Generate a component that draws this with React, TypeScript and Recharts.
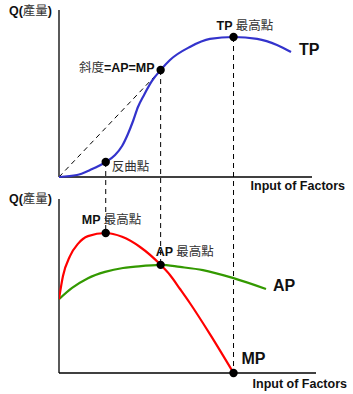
import React from 'react';
import { ComposedChart, Line, XAxis, YAxis, ReferenceLine, ReferenceDot } from 'recharts';

// ---- data ----
const tpInput = [0, 0.77, 1.33, 2.0, 2.4, 2.7, 2.95, 3.17, 3.38, 3.64, 3.98, 4.35, 4.75, 5.6, 6.46, 7.47, 8.48, 9.33, 9.93];
const tpOutput = [0, 1.4, 5, 10.7, 15.7, 22.1, 30.7, 40, 50, 58.6, 68.6, 76.4, 83.6, 92.9, 98.6, 100, 98.6, 94.3, 89.3];
const mpInput = [0, 0.17, 0.47, 0.81, 1.24, 2.0, 2.7, 3.47, 4.35, 4.75, 5.18, 5.6, 6.46, 7.47];
const mpOutput = [21.1, 27.7, 33.4, 36.9, 39.1, 40, 38.9, 36, 30.9, 28, 24.0, 20.0, 11.1, 0];
const apInput = [0, 0.56, 1.24, 1.97, 2.74, 3.17, 4.35, 5.18, 6.16, 7.47, 8.86];
const apOutput = [21.1, 24.3, 27.1, 28.9, 30, 30.3, 30.9, 30.3, 29.4, 27.1, 24];

const inflectionL = 2.0;
const equalL = 4.35;
const tpMaxL = 7.47;
const topAxisEnd = 10.83;
const botAxisEnd = 11;
const topAxisHeight = 119.29;
const botAxisHeight = 49.7;

// ---- layout ----
const W = 353;
const H = 394;
const M = { top: 10, right: 37, bottom: 21, left: 59 };
const PLOT_BOTTOM = H - M.bottom; // 373
const TOP_BASE = 177;
const TOP_SCALE = 1.4;
const BOT_SCALE = 3.5;
const topDomain = [-(PLOT_BOTTOM - TOP_BASE) / TOP_SCALE, (TOP_BASE - M.top) / TOP_SCALE];
const botDomain = [0, (PLOT_BOTTOM - M.top) / BOT_SCALE];
const topToBot = (v: number) => (PLOT_BOTTOM - (TOP_BASE - v * TOP_SCALE)) / BOT_SCALE;

const zip = (xs: number[], ys: number[]) => xs.map((x, i) => ({ x, y: ys[i] }));
const tpData = zip(tpInput, tpOutput);
const mpData = zip(mpInput, mpOutput);
const apData = zip(apInput, apOutput);
const valueAt = (xs: number[], ys: number[], x: number) => ys[xs.indexOf(x)];

const FONT = "Arial, 'Liberation Sans', 'Noto Sans CJK TC', sans-serif";
const BLUE = '#3333cc';
const RED = '#ff0000';
const GREEN = '#339900';

type Part = { t: string; cjk?: boolean };
const lat = (t: string): Part => ({ t });
const cjk = (t: string): Part => ({ t, cjk: true });

const makeShape = (parts: Part[], dx: number, dy: number, anchor: 'start' | 'end' | 'middle', size: number, dot: boolean) =>
  (p: any) => (
    <g>
      {dot && <circle cx={p.cx} cy={p.cy} r={4.2} fill="#000" />}
      <text
        x={p.cx + dx}
        y={p.cy + dy}
        textAnchor={anchor}
        dominantBaseline="central"
        fontFamily={FONT}
        fontSize={size}
      >
        {parts.map((q, i) => (
          <tspan key={i} fontWeight={q.cjk ? 'normal' : 'bold'} fill={q.cjk ? '#333' : '#111'}>
            {q.t}
          </tspan>
        ))}
      </text>
    </g>
  );

const dash = '5 4';

export default function App() {
  const tpInfl = valueAt(tpInput, tpOutput, inflectionL);
  const tpEq = valueAt(tpInput, tpOutput, equalL);
  const tpMax = valueAt(tpInput, tpOutput, tpMaxL);
  const mpMax = valueAt(mpInput, mpOutput, inflectionL);
  const apMax = valueAt(apInput, apOutput, equalL);
  const tpEnd = tpData[tpData.length - 1];
  const apEnd = apData[apData.length - 1];
  return (
    <div style={{ position: 'absolute', left: 0, top: 0, width: W, height: H, background: '#fff' }}>
      <ComposedChart width={W} height={H} margin={M}>
        <XAxis type="number" dataKey="x" domain={[0, botAxisEnd]} hide allowDataOverflow />
        <YAxis yAxisId="top" type="number" domain={topDomain} hide allowDataOverflow />
        <YAxis yAxisId="bot" type="number" domain={botDomain} hide allowDataOverflow />

        {/* dashed guides */}
        <ReferenceLine yAxisId="top" ifOverflow="visible" stroke="#000" strokeDasharray={dash}
          segment={[{ x: 0, y: 0 }, { x: equalL, y: tpEq }]} />
        <ReferenceLine yAxisId="bot" ifOverflow="visible" stroke="#000" strokeDasharray={dash}
          segment={[{ x: inflectionL, y: topToBot(tpInfl) }, { x: inflectionL, y: mpMax }]} />
        <ReferenceLine yAxisId="bot" ifOverflow="visible" stroke="#000" strokeDasharray={dash}
          segment={[{ x: equalL, y: topToBot(tpEq) }, { x: equalL, y: apMax }]} />
        <ReferenceLine yAxisId="bot" ifOverflow="visible" stroke="#000" strokeDasharray={dash}
          segment={[{ x: tpMaxL, y: topToBot(tpMax) }, { x: tpMaxL, y: 0 }]} />

        {/* axes */}
        <ReferenceLine yAxisId="top" ifOverflow="visible" stroke="#000" strokeWidth={1.3}
          segment={[{ x: 0, y: 0 }, { x: 0, y: topAxisHeight }]} />
        <ReferenceLine yAxisId="top" ifOverflow="visible" stroke="#000" strokeWidth={1.3}
          segment={[{ x: 0, y: 0 }, { x: topAxisEnd, y: 0 }]} />
        <ReferenceLine yAxisId="bot" ifOverflow="visible" stroke="#000" strokeWidth={1.3}
          segment={[{ x: 0, y: 0 }, { x: 0, y: botAxisHeight }]} />
        <ReferenceLine yAxisId="bot" ifOverflow="visible" stroke="#000" strokeWidth={1.3}
          segment={[{ x: 0, y: 0 }, { x: botAxisEnd, y: 0 }]} />

        {/* curves */}
        <Line yAxisId="top" data={tpData} dataKey="y" type="monotone" stroke={BLUE} strokeWidth={2.2} dot={false} activeDot={false} isAnimationActive={false} />
        <Line yAxisId="bot" data={apData} dataKey="y" type="monotone" stroke={GREEN} strokeWidth={2.2} dot={false} activeDot={false} isAnimationActive={false} />
        <Line yAxisId="bot" data={mpData} dataKey="y" type="monotone" stroke={RED} strokeWidth={2.2} dot={false} activeDot={false} isAnimationActive={false} />

        {/* points and labels */}
        <ReferenceDot yAxisId="top" x={inflectionL} y={tpInfl} r={4} ifOverflow="visible"
          shape={makeShape([cjk('反曲點')], 6, 5, 'start', 12.5, true)} />
        <ReferenceDot yAxisId="top" x={equalL} y={tpEq} r={4} ifOverflow="visible"
          shape={makeShape([cjk('斜度'), lat('=AP=MP')], -6, -2, 'end', 12.5, true)} />
        <ReferenceDot yAxisId="top" x={tpMaxL} y={tpMax} r={4} ifOverflow="visible"
          shape={makeShape([lat('TP '), cjk('最高點')], -17, -11, 'start', 12.5, true)} />
        <ReferenceDot yAxisId="bot" x={inflectionL} y={mpMax} r={4} ifOverflow="visible"
          shape={makeShape([lat('MP '), cjk('最高點')], -24, -13, 'start', 12.5, true)} />
        <ReferenceDot yAxisId="bot" x={equalL} y={apMax} r={4} ifOverflow="visible"
          shape={makeShape([lat('AP '), cjk('最高點')], -5, -13, 'start', 12.5, true)} />
        <ReferenceDot yAxisId="bot" x={tpMaxL} y={0} r={4} ifOverflow="visible"
          shape={makeShape([lat('MP')], 8, -15, 'start', 16, true)} />

        <ReferenceDot yAxisId="top" x={tpEnd.x} y={tpEnd.y} r={0} ifOverflow="visible"
          shape={makeShape([lat('TP')], 8, -3, 'start', 16, false)} />
        <ReferenceDot yAxisId="bot" x={apEnd.x} y={apEnd.y} r={0} ifOverflow="visible"
          shape={makeShape([lat('AP')], 7, -4, 'start', 16, false)} />
        <ReferenceDot yAxisId="top" x={topAxisEnd} y={0} r={0} ifOverflow="visible"
          shape={makeShape([lat('Input of Factors')], 33, 9, 'end', 12.5, false)} />
        <ReferenceDot yAxisId="bot" x={botAxisEnd} y={0} r={0} ifOverflow="visible"
          shape={makeShape([lat('Input of Factors')], 31, 11, 'end', 12.5, false)} />
        <ReferenceDot yAxisId="top" x={0} y={topAxisHeight} r={0} ifOverflow="visible"
          shape={makeShape([lat('Q('), cjk('產量'), lat(')')], -7, 1, 'end', 12.5, false)} />
        <ReferenceDot yAxisId="bot" x={0} y={botAxisHeight} r={0} ifOverflow="visible"
          shape={makeShape([lat('Q('), cjk('產量'), lat(')')], -7, 0, 'end', 12.5, false)} />
      </ComposedChart>
    </div>
  );
}
